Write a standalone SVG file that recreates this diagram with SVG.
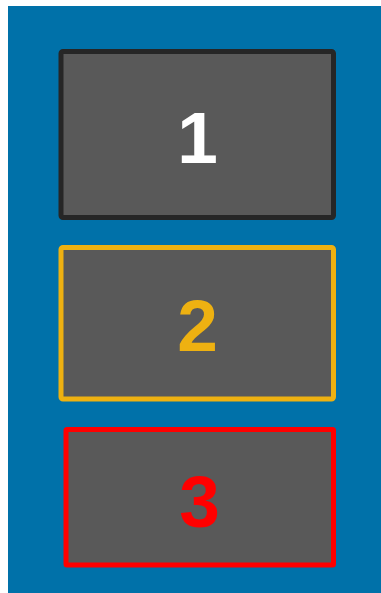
<svg xmlns="http://www.w3.org/2000/svg" width="381" height="593" viewBox="0 0 381 593">
<style>
.box{fill:#595959;stroke-width:5}
.num{font-family:"Liberation Sans",Arial,sans-serif;font-weight:bold;font-size:73px;text-anchor:middle}
</style>
<rect x="0" y="0" width="381" height="593" fill="#ffffff"/>
<rect x="8" y="6" width="373" height="587" fill="#0071A9"/>
<g id="node1">
<rect class="box" x="61" y="51.5" width="272.5" height="166" rx="2" stroke="#262626"/>
<text class="num" x="197.5" y="162.5" fill="#ffffff">1</text>
</g>
<g id="node2">
<rect class="box" x="61" y="247.5" width="272.5" height="151.5" rx="2" stroke="#EEB111"/>
<text class="num" x="197.5" y="351" fill="#EEB111">2</text>
</g>
<g id="node3">
<rect class="box" x="66" y="429.5" width="267.5" height="135.5" rx="1" stroke="#FF0000"/>
<text class="num" x="199.5" y="527" fill="#FF0000">3</text>
</g>
<g id="connectors"></g>
</svg>
